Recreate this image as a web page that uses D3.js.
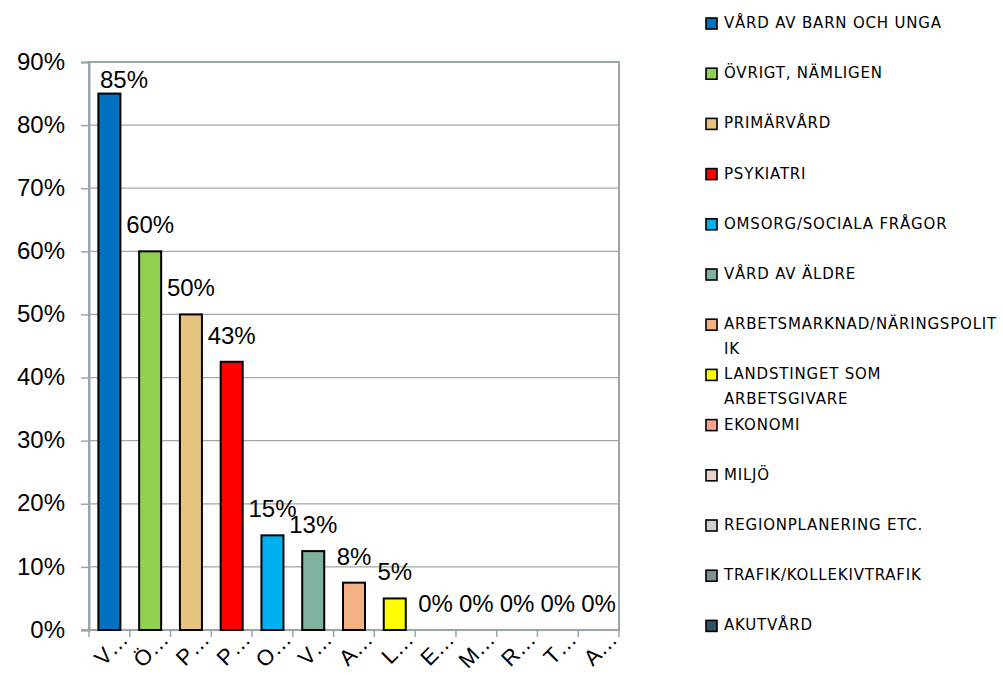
<!DOCTYPE html>
<html>
<head>
<meta charset="utf-8">
<script src="https://cdn.jsdelivr.net/npm/d3@7"></script>
<style>
  body { margin: 0; background: #fff; }
  svg { display: block; }
</style>
</head>
<body>
<svg width="1003" height="675"></svg>
<script>
// kategorier (kortade etiketter på x-axeln, fulla namn i legenden)
const shortLbl = ["V…","Ö…","P…","P…","O…","V…","A…","L…","E…","M…","R…","T…","A…"];
const legendLines = [
  ["VÅRD AV BARN OCH UNGA"],
  ["ÖVRIGT, NÄMLIGEN"],
  ["PRIMÄRVÅRD"],
  ["PSYKIATRI"],
  ["OMSORG/SOCIALA FRÅGOR"],
  ["VÅRD AV ÄLDRE"],
  ["ARBETSMARKNAD/NÄRINGSPOLIT", "IK"],
  ["LANDSTINGET SOM", "ARBETSGIVARE"],
  ["EKONOMI"],
  ["MILJÖ"],
  ["REGIONPLANERING ETC."],
  ["TRAFIK/KOLLEKIVTRAFIK"],
  ["AKUTVÅRD"]
];
const values = [85, 60, 50, 42.5, 15, 12.5, 7.5, 5, 0, 0, 0, 0, 0];
const colors = ["#0070C0","#92D050","#E6C47F","#FF0000","#00B0F0","#7FB19C","#F4B183",
                "#FFFF00","#F7A58F","#F0D2C6","#CDD2CE","#7F9197","#2F5364"];
const yTicks = [0,10,20,30,40,50,60,70,80,90];

var svg = d3.select("svg");
var pl = 89, pr = 619, pt = 62, pb = 630;

var x = d3.scaleBand().domain(d3.range(values.length)).range([pl, pr]).paddingInner(0.46).paddingOuter(0.23);
var xb = d3.scaleBand().domain(d3.range(values.length)).range([pl, pr]);
var y = d3.scaleLinear().domain([0, 90]).range([pb, pt]);

// ram runt plotytan
svg.append("rect")
   .attr("x", pl).attr("y", pt)
   .attr("width", pr - pl).attr("height", pb - pt)
   .attr("fill", "none").attr("stroke", "#98A6AC").attr("stroke-width", 2);

// stödlinjer
svg.append("g").selectAll("line")
   .data(yTicks.slice(1, -1)).enter().append("line")
   .attr("x1", pl).attr("x2", pr)
   .attr("y1", d => y(d)).attr("y2", d => y(d))
   .attr("stroke", "#A6A6A6").attr("stroke-width", 1.2);

// y-axel
var yAxis = svg.append("g")
   .attr("transform", "translate(" + pl + ",0)")
   .call(d3.axisLeft(y).tickValues(yTicks).tickFormat(d => d + "%").tickSize(8).tickPadding(16));
yAxis.select(".domain").attr("stroke", "#98A6AC").attr("stroke-width", 2);
yAxis.selectAll(".tick line").attr("stroke", "#98A6AC").attr("stroke-width", 1.5);
yAxis.selectAll("text").attr("font-family", "Liberation Sans, Arial").attr("font-size", 24)
     .attr("dy", "0.3em").attr("fill", "#000");

// x-axel
var xg = svg.append("g").attr("transform", "translate(0," + pb + ")");
xg.append("line").attr("x1", pl - 8).attr("x2", pr).attr("stroke", "#98A6AC").attr("stroke-width", 2);
xg.selectAll("line.t")
  .data(d3.range(values.length + 1)).enter().append("line")
  .attr("class", "t")
  .attr("x1", d => pl + d * xb.bandwidth()).attr("x2", d => pl + d * xb.bandwidth())
  .attr("y1", 0).attr("y2", 7)
  .attr("stroke", "#98A6AC").attr("stroke-width", 1.5);
xg.selectAll("text")
  .data(shortLbl).enter().append("text")
  .attr("text-anchor", "end")
  .attr("font-family", "Liberation Sans, Arial").attr("font-size", 22)
  .attr("transform", (d, i) => "translate(" + (xb(i) + xb.bandwidth() / 2 + 20) + ",11) rotate(-45)")
  .text(d => d);

// staplar
svg.append("g").selectAll("rect")
   .data(values).enter().append("rect")
   .attr("x", (d, i) => x(i))
   .attr("y", d => y(d))
   .attr("width", x.bandwidth())
   .attr("height", d => pb - y(d))
   .attr("fill", (d, i) => colors[i])
   .attr("stroke", "#000").attr("stroke-width", 2)
   .style("display", d => d > 0 ? null : "none");

// dataetiketter
svg.append("g").selectAll("text")
   .data(values).enter().append("text")
   .attr("x", (d, i) => Math.max(x(i) + x.bandwidth() / 2, pl + 35))
   .attr("y", d => Math.max(y(d) - 18, pt + 26))
   .attr("text-anchor", "middle")
   .attr("font-family", "Liberation Sans, Arial").attr("font-size", 24)
   .text(d => Math.round(d + 0.001) + "%");

// legend
var lg = svg.append("g").attr("transform", "translate(706,0)");
var items = lg.selectAll("g").data(legendLines).enter().append("g")
   .attr("transform", (d, i) => "translate(0," + (22 + i * 50.2) + ")");
items.append("rect")
   .attr("x", 0).attr("y", -4).attr("width", 11).attr("height", 11)
   .attr("fill", (d, i) => colors[i]).attr("stroke", "#000").attr("stroke-width", 1.6);
items.each(function(lines) {
  var t = d3.select(this).append("text")
     .attr("x", 18).attr("y", 6)
     .attr("font-family", "DejaVu Sans").attr("font-size", 15)
     .attr("letter-spacing", 0.8).attr("fill", "#000");
  lines.forEach((l, k) => t.append("tspan").attr("x", 18).attr("dy", k ? 25 : 0).text(l));
});
</script>
</body>
</html>
